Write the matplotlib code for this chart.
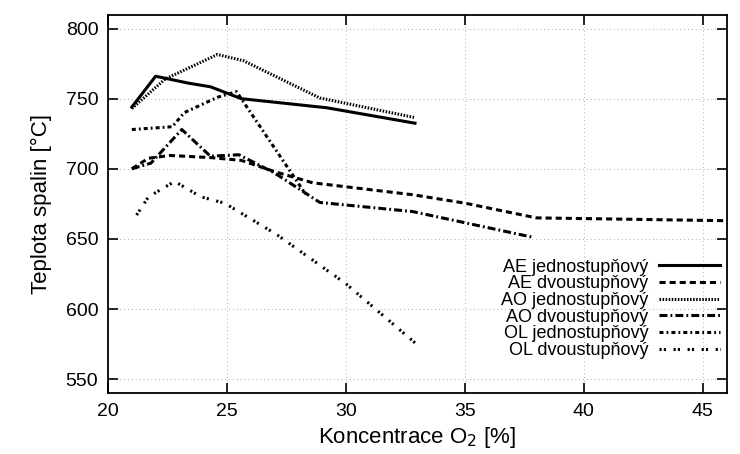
import matplotlib
matplotlib.use('Agg')
import matplotlib.pyplot as plt

plt.rcParams['font.family'] = ['Liberation Sans', 'DejaVu Sans']
plt.rcParams['font.size'] = 14

# data
ae1_x = [21, 22, 23.4, 24.3, 25.6, 29.2, 32.9]
ae1_y = [744, 766, 761, 758.5, 750, 743.5, 732.5]

ae2_x = [21, 21.7, 22.6, 24.3, 25.6, 27, 28.6, 32.8, 35, 38, 45.9]
ae2_y = [700, 707.5, 709.5, 708, 706, 698, 690, 681.5, 675.5, 665, 663]

ao1_x = [21, 22.4, 24.6, 25.7, 28.9, 32.9]
ao1_y = [743, 764, 781.5, 777, 750.5, 736.5]

ao2_x = [21, 21.8, 23.1, 24.3, 25.5, 27, 28.9, 32.8, 37.9]
ao2_y = [700, 704, 728, 709, 710, 697, 676, 669.5, 651]

ol1_x = [21, 22.7, 23.2, 24.6, 25.4, 28.3]
ol1_y = [728, 730, 740, 751, 755, 682]

ol2_x = [21.2, 21.7, 22.8, 23.9, 24.9, 27.1, 30, 33.1]
ol2_y = [667, 680, 691, 680, 675.5, 653, 618, 573]

labels = ['AE jednostupňový', 'AE dvoustupňový', 'AO jednostupňový',
          'AO dvoustupňový', 'OL jednostupňový', 'OL dvoustupňový']

lw = 2.2
fig, ax = plt.subplots(figsize=(7.4, 4.54), dpi=100)
fig.subplots_adjust(left=0.146, right=0.982, top=0.968, bottom=0.134)

ax.plot(ae1_x, ae1_y, color='black', lw=lw, label=labels[0])
ax.plot(ae2_x, ae2_y, color='black', lw=lw, dashes=(2, 1.3), label=labels[1])
ax.plot(ao1_x, ao1_y, color='black', lw=lw, dashes=(0.5, 0.5), label=labels[2])
ax.plot(ao2_x, ao2_y, color='black', lw=lw, dashes=(2.6, 1, 0.6, 1), label=labels[3])
ax.plot(ol1_x, ol1_y, color='black', lw=lw, dashes=(1.3, 1, 0.6, 1), label=labels[4])
ax.plot(ol2_x, ol2_y, color='black', lw=lw, dashes=(0.7, 0.7, 0.7, 2.5), label=labels[5])

ax.set_xlim(20, 46)
ax.set_ylim(540, 810)
ax.set_xticks([20, 25, 30, 35, 40, 45])
ax.set_yticks([550, 600, 650, 700, 750, 800])
ax.tick_params(direction='in', length=7, width=1.2, top=True, right=True,
               pad=7, labelsize=14)
ax.grid(True, color='#b0b0b0', linestyle=(0, (1, 3)), linewidth=0.7)
for s in ax.spines.values():
    s.set_linewidth(1.3)

ax.set_xlabel('Koncentrace O$_2$ [%]', fontsize=16, labelpad=4)
ax.set_ylabel('Teplota spalin [°C]', fontsize=16, labelpad=10)

ax.legend(loc='upper right', bbox_to_anchor=(0.99, 0.355), frameon=False,
          markerfirst=False, handlelength=3.4, labelspacing=-0.02,
          borderpad=0, borderaxespad=0, handletextpad=0.6, fontsize=13)

fig.savefig('out.png')
